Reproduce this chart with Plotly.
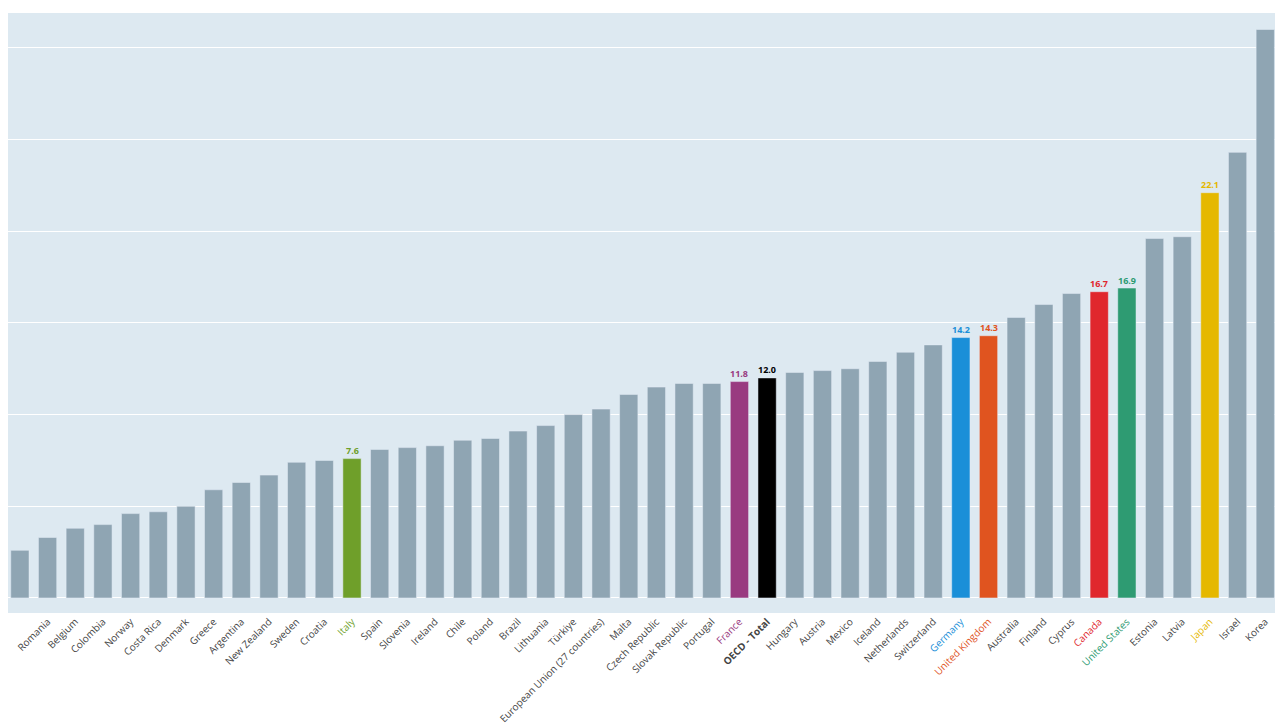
import plotly.graph_objects as go

countries = ["Bulgaria","Romania","Belgium","Colombia","Norway","Costa Rica","Denmark","Greece","Argentina","New Zealand","Sweden","Croatia","Italy","Spain","Slovenia","Ireland","Chile","Poland","Brazil","Lithuania","Türkiye","European Union (27 countries)","Malta","Czech Republic","Slovak Republic","Portugal","France","OECD - Total","Hungary","Austria","Mexico","Iceland","Netherlands","Switzerland","Germany","United Kingdom","Australia","Finland","Cyprus","Canada","United States","Estonia","Latvia","Japan","Israel","Korea"]
values = [2.6,3.3,3.8,4.0,4.6,4.7,5.0,5.9,6.3,6.7,7.4,7.5,7.6,8.1,8.2,8.3,8.6,8.7,9.1,9.4,10.0,10.3,11.1,11.5,11.7,11.7,11.8,12.0,12.3,12.4,12.5,12.9,13.4,13.8,14.2,14.3,15.3,16.0,16.6,16.7,16.9,19.6,19.7,22.1,24.3,31.0]
highlight = {"Italy":"#6f9f2a","France":"#993a80","OECD - Total":"#000000","Germany":"#1a8fd8",
             "United Kingdom":"#e0541f","Canada":"#e0272d","United States":"#2e9b72","Japan":"#e5b800"}
grey = "#8fa5b3"

colors = [highlight.get(c, grey) for c in countries]
x = list(range(len(countries)))
ticktext = []
for c in countries:
    if c == "OECD - Total":
        ticktext.append(f"<b>{c}</b>")
    elif c in highlight:
        ticktext.append(f"<span style='color:{highlight[c]}'>{c}</span>")
    else:
        ticktext.append(c)

fig = go.Figure(go.Bar(x=x, y=values, marker_color=colors, width=0.66, hoverinfo="skip"))
for i, (c, v) in enumerate(zip(countries, values)):
    if c in highlight:
        fig.add_annotation(x=i, y=v, text=f"<b>{v:.1f}</b>", showarrow=False, yshift=8,
                           font=dict(size=9, color=highlight[c], family="Open Sans"))

fig.update_layout(
    width=1283, height=723, margin=dict(l=0, r=0, t=5, b=118, autoexpand=False),
    paper_bgcolor="white", plot_bgcolor="#dde9f1", showlegend=False,
    font=dict(family="Open Sans", size=10, color="#444"),
    xaxis=dict(tickvals=x, ticktext=ticktext, tickangle=-45, range=[-0.43, 45.93],
               showgrid=False, automargin=False),
    yaxis=dict(range=[-0.82, 31.9], dtick=5, gridcolor="white", gridwidth=1, showticklabels=False,
               zeroline=True, zerolinecolor="white", zerolinewidth=1, automargin=False),
)
fig.write_html("out.html")
